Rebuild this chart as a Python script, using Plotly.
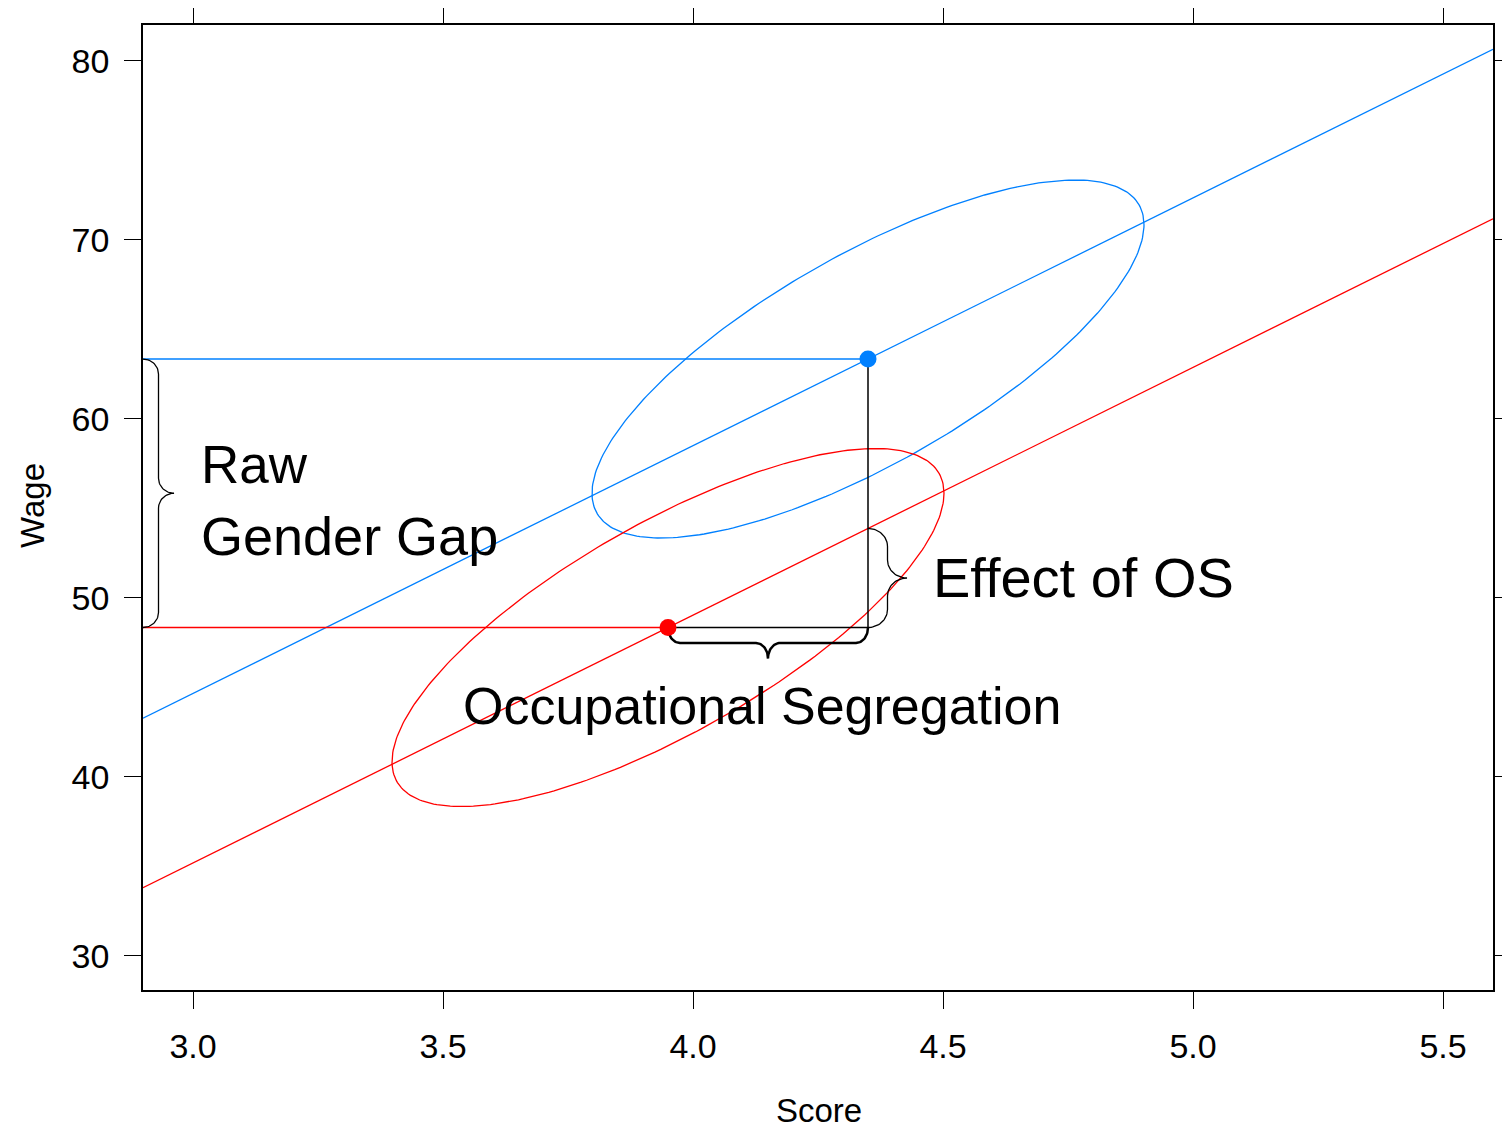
import numpy as np
import plotly.graph_objects as go

# ---- data ----
x_range = [2.9, 5.6]
y_range = [28.10, 82.01]
x_ticks = [3.0, 3.5, 4.0, 4.5, 5.0, 5.5]
x_tick_labels = ["3.0", "3.5", "4.0", "4.5", "5.0", "5.5"]
y_ticks = [30, 40, 50, 60, 70, 80]
y_tick_labels = ["30", "40", "50", "60", "70", "80"]

slope = 13.84
male_intercept = 3.15
female_intercept = -6.32
male_mean = [4.35, 63.35]     # (score, wage)
female_mean = [3.95, 48.35]
ellipse_sd_x = 0.552
ellipse_sd_y = 10.0
ellipse_r = 0.75

labels = ["Raw", "Gender Gap", "Effect of OS", "Occupational Segregation"]
x_title = "Score"
y_title = "Wage"

BLUE = "#0080FF"
RED = "#FF0000"
FONT = "Arial, Liberation Sans, sans-serif"

# page body has an 8px margin; size the figure so the plot area lands where it should
W, H = 1502, 1125
ML, MR, MT, MB = 135, 17, 17, 143
PW, PH = W - ML - MR, H - MT - MB
sx = PW / (x_range[1] - x_range[0])   # px per x unit
sy = PH / (y_range[1] - y_range[0])   # px per y unit

fig = go.Figure()


def ellipse(c, color):
    t = np.linspace(0, 2 * np.pi, 300)
    d = np.arccos(ellipse_r)
    x = c[0] + ellipse_sd_x * np.cos(t)
    y = c[1] + ellipse_sd_y * np.cos(t - d)
    fig.add_trace(go.Scatter(x=x, y=y, mode="lines", line=dict(color=color, width=1.3),
                             hoverinfo="skip"))


def brace(p0, p1, normal, ru, rn, width):
    """curly brace between data points p0,p1; normal in pixel dir (screen: y down)"""
    a = np.array([p0[0] * sx, -p0[1] * sy])
    b = np.array([p1[0] * sx, -p1[1] * sy])
    L = np.linalg.norm(b - a)
    u_dir = (b - a) / L
    n_dir = np.array(normal, dtype=float)
    th = np.linspace(0, np.pi / 2, 20)
    pts = []
    for t in th:
        pts.append((ru - ru * np.cos(t), rn * np.sin(t)))
    for t in th:
        pts.append((L / 2 - ru + ru * np.sin(t), 2 * rn - rn * np.cos(t)))
    half = pts[:]
    for (u, n) in reversed(half):
        pts.append((L - u, n))
    xs, ys = [], []
    for (u, n) in pts:
        p = a + u * u_dir + n * n_dir
        xs.append(p[0] / sx)
        ys.append(-p[1] / sy)
    fig.add_trace(go.Scatter(x=xs, y=ys, mode="lines", line=dict(color="black", width=width),
                             hoverinfo="skip"))


# regression lines
for icpt, col in [(male_intercept, BLUE), (female_intercept, RED)]:
    fig.add_trace(go.Scatter(x=x_range, y=[icpt + slope * v for v in x_range], mode="lines",
                             line=dict(color=col, width=1.3), hoverinfo="skip"))

# ellipses
ellipse(male_mean, BLUE)
ellipse(female_mean, RED)

# horizontal guides
fig.add_trace(go.Scatter(x=[x_range[0], male_mean[0]], y=[male_mean[1]] * 2, mode="lines",
                         line=dict(color=BLUE, width=1.3), hoverinfo="skip"))
fig.add_trace(go.Scatter(x=[x_range[0], female_mean[0]], y=[female_mean[1]] * 2, mode="lines",
                         line=dict(color=RED, width=1.3), hoverinfo="skip"))
# black guides
fig.add_trace(go.Scatter(x=[female_mean[0], male_mean[0], male_mean[0]],
                         y=[female_mean[1], female_mean[1], male_mean[1]], mode="lines",
                         line=dict(color="black", width=1.5), hoverinfo="skip"))

# braces
brace([x_range[0], male_mean[1]], [x_range[0], female_mean[1]], (1, 0), 15, 15.5, 1.3)
brace([female_mean[0], female_mean[1]], [male_mean[0], female_mean[1]], (0, 1), 12, 15.5, 2.5)
fem_line_at_male = female_intercept + slope * male_mean[0]
brace([male_mean[0], fem_line_at_male], [male_mean[0], female_mean[1]], (1, 0), 18, 19.5, 1.3)

# points
fig.add_trace(go.Scatter(x=[male_mean[0]], y=[male_mean[1]], mode="markers",
                         marker=dict(color=BLUE, size=17), hoverinfo="skip"))
fig.add_trace(go.Scatter(x=[female_mean[0]], y=[female_mean[1]], mode="markers",
                         marker=dict(color=RED, size=17), hoverinfo="skip"))

# text labels
ann_pos = [(3.012, 57.45), (3.012, 53.45), (4.476, 51.15), (3.536, 43.95)]
ann_size = [53, 54, 56, 52]
for txt, (ax, ay), fs in zip(labels, ann_pos, ann_size):
    fig.add_annotation(x=ax, y=ay, text=txt, showarrow=False, xanchor="left", yanchor="middle",
                       font=dict(family=FONT, size=fs, color="black"))

# axis titles as paper-positioned annotations
fig.add_annotation(x=0.5007, y=-0.1244, xref="paper", yref="paper", text=x_title,
                   showarrow=False, xanchor="center", yanchor="middle",
                   font=dict(family=FONT, size=33, color="black"))
fig.add_annotation(x=-0.0815, y=0.5026, xref="paper", yref="paper", text=y_title,
                   showarrow=False, xanchor="center", yanchor="middle", textangle=-90,
                   font=dict(family=FONT, size=33, color="black"))

axis_common = dict(ticks="outside", ticklen=17, tickwidth=1.2, tickcolor="black",
                   showline=True, linecolor="black", linewidth=1.6, mirror="ticks",
                   showgrid=False, zeroline=False, automargin=False, ticklabelstandoff=8,
                   tickfont=dict(family=FONT, size=34, color="black"))

fig.update_layout(
    width=W, height=H,
    margin=dict(l=ML, r=MR, t=MT, b=MB),
    paper_bgcolor="white", plot_bgcolor="white",
    showlegend=False,
    xaxis=dict(range=x_range, tickvals=x_ticks, ticktext=x_tick_labels, **axis_common),
    yaxis=dict(range=y_range, tickvals=y_ticks, ticktext=y_tick_labels, **axis_common),
)

fig.write_html("out.html")
